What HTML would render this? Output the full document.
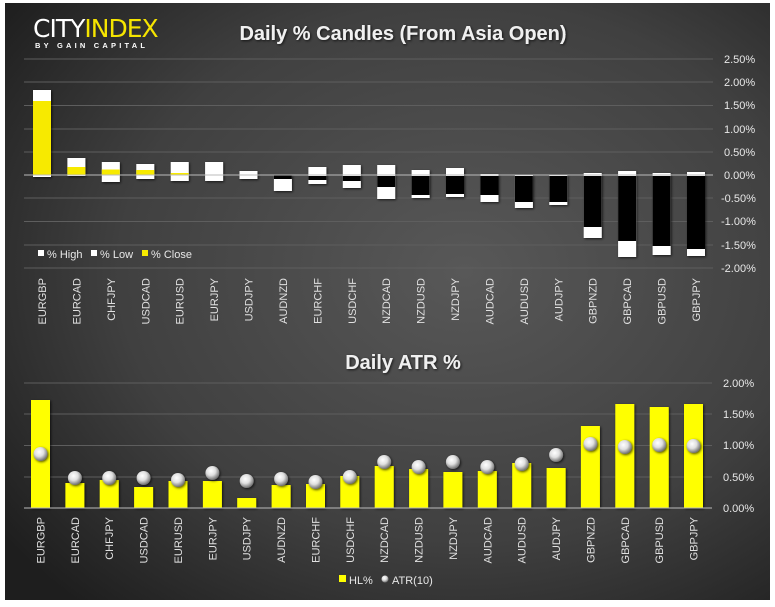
<!DOCTYPE html>
<html><head><meta charset="utf-8"><style>
html,body{margin:0;padding:0;background:#fff;}
svg{display:block;font-family:"Liberation Sans",sans-serif;}
</style></head><body>
<svg width="775" height="607" viewBox="0 0 775 607" xmlns="http://www.w3.org/2000/svg">
<defs>
<radialGradient id="bg" cx="0.6" cy="0.45" r="0.75">
<stop offset="0" stop-color="#585858"/><stop offset="0.6" stop-color="#404040"/><stop offset="1" stop-color="#1e1e1e"/>
</radialGradient>
<radialGradient id="ball" cx="0.4" cy="0.35" r="0.65">
<stop offset="0" stop-color="#ffffff"/><stop offset="0.5" stop-color="#e0e0e0"/><stop offset="1" stop-color="#707070"/>
</radialGradient>
<filter id="sh" x="-30%" y="-30%" width="160%" height="160%"><feDropShadow dx="1" dy="1" stdDeviation="1.2" flood-color="#000" flood-opacity="0.7"/></filter>
</defs>
<rect x="5" y="3" width="765" height="597" fill="url(#bg)"/>
<text x="33" y="37" font-size="25" fill="#fff" font-family="DejaVu Sans,sans-serif" letter-spacing="-1">CITY<tspan fill="#f5e400">INDEX</tspan></text>
<text x="35" y="48" font-size="7.5" fill="#fff" font-weight="bold" letter-spacing="3.2">BY GAIN CAPITAL</text>
<text x="403" y="40" font-size="20" font-weight="bold" fill="#f0f0f0" text-anchor="middle" filter="url(#sh)">Daily % Candles (From Asia Open)</text>
<g stroke="#5e5e5e" stroke-width="1">
<line x1="24" y1="59" x2="713" y2="59"/><line x1="24" y1="82" x2="713" y2="82"/><line x1="24" y1="105.5" x2="713" y2="105.5"/><line x1="24" y1="129" x2="713" y2="129"/><line x1="24" y1="152" x2="713" y2="152"/><line x1="24" y1="198" x2="713" y2="198"/><line x1="24" y1="221.5" x2="713" y2="221.5"/><line x1="24" y1="245" x2="713" y2="245"/><line x1="24" y1="268" x2="713" y2="268"/>
</g>
<g font-size="11" fill="#e8e8e8">
<text x="724" y="63">2.50%</text><text x="724" y="86">2.00%</text><text x="724" y="109">1.50%</text><text x="724" y="133">1.00%</text><text x="724" y="156">0.50%</text><text x="724" y="179">0.00%</text><text x="721" y="202">-0.50%</text><text x="721" y="225">-1.00%</text><text x="721" y="249">-1.50%</text><text x="721" y="272">-2.00%</text>
</g>
<g filter="url(#sh)" fill="#fff">
<rect x="33" y="90" width="18" height="87"/>
<rect x="67.4" y="158" width="18" height="18"/>
<rect x="101.8" y="162" width="18" height="20"/>
<rect x="136.3" y="164" width="18" height="15"/>
<rect x="170.7" y="162" width="18" height="19"/>
<rect x="205.1" y="162" width="18" height="19"/>
<rect x="239.5" y="171" width="18" height="8"/>
<rect x="273.9" y="175" width="18" height="16"/>
<rect x="308.4" y="167" width="18" height="17"/>
<rect x="342.8" y="165" width="18" height="23"/>
<rect x="377.2" y="165" width="18" height="34"/>
<rect x="411.6" y="170" width="18" height="28"/>
<rect x="446" y="168" width="18" height="29"/>
<rect x="480.5" y="174" width="18" height="28"/>
<rect x="514.9" y="175" width="18" height="33"/>
<rect x="549.3" y="175" width="18" height="30"/>
<rect x="583.7" y="173" width="18" height="65"/>
<rect x="618.1" y="171" width="18" height="86"/>
<rect x="652.6" y="173" width="18" height="82"/>
<rect x="687" y="172" width="18" height="84"/>
</g>
<g fill="#f7ea00">
<rect x="33" y="101" width="18" height="74"/>
<rect x="67.4" y="167" width="18" height="8"/>
<rect x="101.8" y="169.5" width="18" height="5.5"/>
<rect x="136.3" y="170" width="18" height="5"/>
<rect x="170.7" y="173" width="18" height="2"/>
</g>
<g fill="#000">
<rect x="273.9" y="175.5" width="18" height="3.5"/>
<rect x="308.4" y="176" width="18" height="4"/>
<rect x="342.8" y="176" width="18" height="5"/>
<rect x="377.2" y="176" width="18" height="11"/>
<rect x="411.6" y="176" width="18" height="19"/>
<rect x="446" y="176" width="18" height="18"/>
<rect x="480.5" y="176" width="18" height="19"/>
<rect x="514.9" y="176" width="18" height="26"/>
<rect x="549.3" y="176" width="18" height="26"/>
<rect x="583.7" y="176" width="18" height="51"/>
<rect x="618.1" y="176" width="18" height="65"/>
<rect x="652.6" y="176" width="18" height="70"/>
<rect x="687" y="176" width="18" height="73"/>
</g>
<line x1="24" y1="175" x2="713" y2="175" stroke="#bbb" stroke-width="1"/>
<g font-size="11" fill="#e8e8e8">
<rect x="38" y="250" width="6" height="6" fill="#fff"/><text x="47" y="258">% High</text>
<rect x="91" y="250" width="6" height="6" fill="#fff"/><text x="100" y="258">% Low</text>
<rect x="142" y="250" width="6" height="6" fill="#f7ea00"/><text x="151" y="258">% Close</text>
</g>
<g font-size="11" fill="#e0e0e0" text-anchor="end">
<text transform="translate(46,278) rotate(-90)">EURGBP</text>
<text transform="translate(80.4,278) rotate(-90)">EURCAD</text>
<text transform="translate(114.8,278) rotate(-90)">CHFJPY</text>
<text transform="translate(149.3,278) rotate(-90)">USDCAD</text>
<text transform="translate(183.7,278) rotate(-90)">EURUSD</text>
<text transform="translate(218.1,278) rotate(-90)">EURJPY</text>
<text transform="translate(252.5,278) rotate(-90)">USDJPY</text>
<text transform="translate(286.9,278) rotate(-90)">AUDNZD</text>
<text transform="translate(321.4,278) rotate(-90)">EURCHF</text>
<text transform="translate(355.8,278) rotate(-90)">USDCHF</text>
<text transform="translate(390.2,278) rotate(-90)">NZDCAD</text>
<text transform="translate(424.6,278) rotate(-90)">NZDUSD</text>
<text transform="translate(459,278) rotate(-90)">NZDJPY</text>
<text transform="translate(493.5,278) rotate(-90)">AUDCAD</text>
<text transform="translate(527.9,278) rotate(-90)">AUDUSD</text>
<text transform="translate(562.3,278) rotate(-90)">AUDJPY</text>
<text transform="translate(596.7,278) rotate(-90)">GBPNZD</text>
<text transform="translate(631.1,278) rotate(-90)">GBPCAD</text>
<text transform="translate(665.6,278) rotate(-90)">GBPUSD</text>
<text transform="translate(700,278) rotate(-90)">GBPJPY</text>
</g>

<text x="403" y="369" font-size="20" font-weight="bold" fill="#f0f0f0" text-anchor="middle" filter="url(#sh)">Daily ATR %</text>
<g stroke="#5e5e5e" stroke-width="1">
<line x1="24" y1="383" x2="712" y2="383"/><line x1="24" y1="414" x2="712" y2="414"/><line x1="24" y1="445.5" x2="712" y2="445.5"/><line x1="24" y1="477" x2="712" y2="477"/>
</g>
<g font-size="11" fill="#e8e8e8">
<text x="723" y="387">2.00%</text><text x="723" y="418">1.50%</text><text x="723" y="449">1.00%</text><text x="723" y="481">0.50%</text><text x="723" y="512">0.00%</text>
</g>
<g fill="#ffff00" filter="url(#sh)">
<rect x="31" y="400" width="19" height="108"/>
<rect x="65.4" y="483" width="19" height="25"/>
<rect x="99.7" y="480" width="19" height="28"/>
<rect x="134.1" y="487" width="19" height="21"/>
<rect x="168.5" y="481" width="19" height="27"/>
<rect x="202.9" y="481" width="19" height="27"/>
<rect x="237.2" y="498" width="19" height="10"/>
<rect x="271.6" y="485" width="19" height="23"/>
<rect x="306" y="484" width="19" height="24"/>
<rect x="340.3" y="476" width="19" height="32"/>
<rect x="374.7" y="466" width="19" height="42"/>
<rect x="409.1" y="469" width="19" height="39"/>
<rect x="443.4" y="472" width="19" height="36"/>
<rect x="477.8" y="471" width="19" height="37"/>
<rect x="512.2" y="463" width="19" height="45"/>
<rect x="546.6" y="468" width="19" height="40"/>
<rect x="580.9" y="426" width="19" height="82"/>
<rect x="615.3" y="404" width="19" height="104"/>
<rect x="649.7" y="407" width="19" height="101"/>
<rect x="684" y="404" width="19" height="104"/>
</g>
<line x1="24" y1="508" x2="712" y2="508" stroke="#bbb" stroke-width="1"/>
<g fill="url(#ball)" filter="url(#sh)">
<circle cx="40.5" cy="454" r="7"/><circle cx="74.9" cy="478" r="7"/><circle cx="109.2" cy="478" r="7"/><circle cx="143.6" cy="478" r="7"/><circle cx="178" cy="480" r="7"/><circle cx="212.4" cy="473" r="7"/><circle cx="246.7" cy="481" r="7"/><circle cx="281.1" cy="479" r="7"/><circle cx="315.5" cy="482" r="7"/><circle cx="349.8" cy="477" r="7"/><circle cx="384.2" cy="462" r="7"/><circle cx="418.6" cy="467" r="7"/><circle cx="452.9" cy="462" r="7"/><circle cx="487.3" cy="467" r="7"/><circle cx="521.7" cy="464" r="7"/><circle cx="556.1" cy="455" r="7"/><circle cx="590.4" cy="444" r="7"/><circle cx="624.8" cy="447" r="7"/><circle cx="659.2" cy="445" r="7"/><circle cx="693.5" cy="446" r="7"/>
</g>
<g font-size="11" fill="#e0e0e0" text-anchor="end">
<text transform="translate(44.5,517) rotate(-90)">EURGBP</text>
<text transform="translate(78.9,517) rotate(-90)">EURCAD</text>
<text transform="translate(113.2,517) rotate(-90)">CHFJPY</text>
<text transform="translate(147.6,517) rotate(-90)">USDCAD</text>
<text transform="translate(182,517) rotate(-90)">EURUSD</text>
<text transform="translate(216.4,517) rotate(-90)">EURJPY</text>
<text transform="translate(250.7,517) rotate(-90)">USDJPY</text>
<text transform="translate(285.1,517) rotate(-90)">AUDNZD</text>
<text transform="translate(319.5,517) rotate(-90)">EURCHF</text>
<text transform="translate(353.8,517) rotate(-90)">USDCHF</text>
<text transform="translate(388.2,517) rotate(-90)">NZDCAD</text>
<text transform="translate(422.6,517) rotate(-90)">NZDUSD</text>
<text transform="translate(456.9,517) rotate(-90)">NZDJPY</text>
<text transform="translate(491.3,517) rotate(-90)">AUDCAD</text>
<text transform="translate(525.7,517) rotate(-90)">AUDUSD</text>
<text transform="translate(560.1,517) rotate(-90)">AUDJPY</text>
<text transform="translate(594.4,517) rotate(-90)">GBPNZD</text>
<text transform="translate(628.8,517) rotate(-90)">GBPCAD</text>
<text transform="translate(663.2,517) rotate(-90)">GBPUSD</text>
<text transform="translate(697.5,517) rotate(-90)">GBPJPY</text>
</g>
<g font-size="11" fill="#e8e8e8">
<rect x="339" y="575" width="7" height="7" fill="#ffff00"/><text x="349" y="584">HL%</text>
<circle cx="385" cy="579" r="3.5" fill="url(#ball)"/><text x="392" y="584">ATR(10)</text>
</g>
</svg>
</body></html>
